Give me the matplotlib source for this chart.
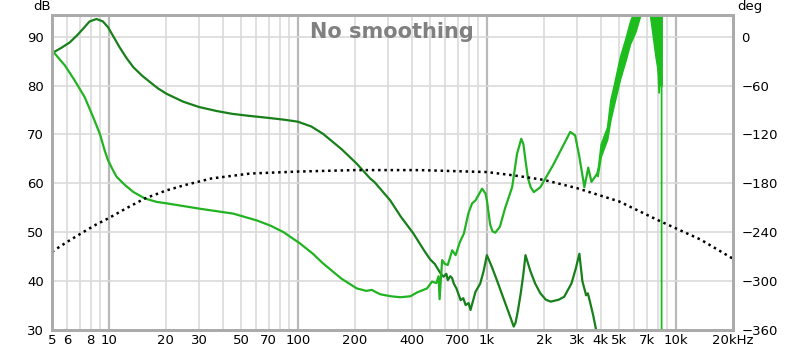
import matplotlib
matplotlib.use('Agg')
import matplotlib.pyplot as plt

# dark green trace (Hz, dB)
dark_freq = [5.1, 5.6, 6.2, 6.8, 7.3, 7.9, 8.6, 9.3, 9.9, 10.5, 11.4, 12.4, 13.5, 15, 16.5,
             18.2, 20.2, 24.7, 30, 37, 45, 55, 69, 85, 100, 118, 136, 170, 205, 241, 255,
             308, 350, 409, 470, 502, 530, 556, 570, 590, 610, 621, 640, 655, 668,
             690, 726, 750, 772, 800, 819, 845, 870, 922, 960, 1000, 1060, 1129, 1250,
             1340, 1386, 1418, 1460, 1510, 1560, 1600, 1700, 1800, 1918, 2050, 2175, 2400,
             2565, 2800, 2950, 3085, 3200, 3350, 3420, 3500, 3650, 3770, 3850]
dark_db = [86.8, 87.7, 88.8, 90.3, 91.6, 93.1, 93.6, 93.1, 91.9, 90.2, 87.8, 85.6, 83.7, 82.0, 80.7,
           79.4, 78.3, 76.7, 75.6, 74.8, 74.2, 73.8, 73.4, 73.0, 72.6, 71.6, 70.1, 67.0, 64.0, 61.0, 60.2,
           56.5, 53.2, 49.7, 46.0, 44.4, 43.5, 42.2, 41.5, 40.9, 41.5, 40.2, 41.0, 40.6, 39.5,
           38.5, 36.1, 36.5, 35.1, 35.5, 34.1, 36.0, 37.8, 39.5, 42.0, 45.3, 43.0, 40.2, 35.5,
           32.3, 30.7, 31.5, 34.0, 37.5, 41.5, 45.3, 42.0, 39.5, 37.5, 36.2, 35.8, 36.2,
           36.8, 39.5, 42.5, 45.6, 40.0, 37.1, 37.5, 36.0, 33.0, 30.3, 28.0]

# bright green trace (Hz, dB)
bright_freq = [5.1, 5.85, 6.6, 7.45, 8.26, 8.96, 9.5, 9.9, 10.5, 11, 12.2, 13.5, 15.5, 17.9,
               20.2, 30.3, 45.5, 60.7, 72, 84, 102.6, 120, 136, 170, 205, 230, 246, 260, 273,
               310, 348, 394, 428, 482, 512, 540, 555, 562, 572, 580, 600, 621, 655, 683, 720,
               755, 800, 835, 870, 943, 983, 1000, 1040, 1070, 1107, 1171, 1250, 1360, 1443,
               1520, 1560, 1600, 1650, 1705, 1770, 1918, 2260, 2500, 2760, 2930, 3085, 3280,
               3437, 3575, 3837, 3900]
bright_db = [86.8, 84.1, 81.0, 77.6, 73.5, 70.1, 66.7, 64.7, 62.7, 61.3, 59.6, 58.2, 56.9, 56.2,
             55.9, 54.8, 53.8, 52.4, 51.3, 50.0, 47.7, 45.6, 43.6, 40.5, 38.5, 38.0, 38.2, 37.7, 37.3,
             36.9, 36.7, 36.9, 37.7, 38.5, 39.9, 39.6, 41.0, 36.3, 41.0, 44.3, 43.5, 43.3, 46.3, 45.3, 48.0,
             49.7, 54.0, 55.9, 56.5, 58.9, 57.9, 56.5, 51.6, 50.2, 49.9, 51.1, 55.0, 59.2, 66.0,
             69.1, 68.0, 64.7, 61.0, 59.2, 58.2, 59.2, 64.0, 67.3, 70.5, 69.8, 65.4, 59.2,
             63.2, 60.3, 62.0, 63.0]

# noisy part of the bright trace, drawn as a band (Hz, low dB, high dB)
band_freq = [3850, 4000, 4325, 4500, 4690, 5070, 5400, 5710, 6100, 6430, 6700, 7000,
             7260, 7500, 7800, 8100, 8300, 8400]
band_lo = [61.5, 65.5, 69.0, 73.0, 76.0, 81.5, 85.0, 88.5, 91.0, 94.0, 97.0, 97.0,
           95.0, 91.0, 86.0, 82.0, 80.0, 80.0]
band_hi = [62.5, 68.0, 71.5, 77.0, 80.0, 86.0, 89.5, 93.0, 96.0, 97.0, 100.0, 100.0,
           100.0, 100.0, 100.0, 100.0, 100.0, 100.0]

# drop at the end of the bright trace
tail_freq = [8050, 8150, 8250, 8400, 8400]
tail_db = [84.0, 78.5, 83.0, 80.0, 20.0]

# dotted black trace
dot_freq = [5, 6, 7.3, 8.5, 10, 12.5, 15.5, 20, 25, 35, 56, 100, 200, 440, 1000, 1400,
            2000, 3000, 5000, 8200, 13500, 20000]
dot_db = [46.0, 48.0, 50.0, 51.5, 52.9, 55.0, 56.9, 58.5, 59.6, 61.0, 62.0, 62.4, 62.7, 62.7,
          62.3, 61.6, 60.7, 59.0, 56.3, 52.3, 48.5, 44.6]

xtick_pos = [5, 6, 8, 10, 20, 30, 50, 70, 100, 200, 400, 700, 1000, 2000, 3000, 4000,
             5000, 7000, 10000, 20000]
xtick_lab = ['5', '6', '8', '10', '20', '30', '50', '70', '100', '200', '400', '700', '1k',
             '2k', '3k', '4k', '5k', '7k', '10k', '20kHz']

fig = plt.figure(figsize=(8, 3.52), dpi=100)
ax = fig.add_axes([0.065, 0.0625, 0.851, 0.896])
ax.set_xscale('log')
ax.set_xlim(5, 20000)
ax.set_ylim(30, 94.5)

# grid
for dec in [1, 10, 100, 1000, 10000]:
    for m in range(1, 10):
        f = dec * m
        if f < 5 or f > 20000:
            continue
        if m == 1:
            ax.axvline(f, color='#b9b9b9', lw=1.6, zorder=0)
        else:
            ax.axvline(f, color='#dadada', lw=1.2, zorder=0)
for y in range(40, 100, 10):
    ax.axhline(y, color='#dadada', lw=1.2, zorder=0)

ax.plot(dark_freq, dark_db, color='#17801a', lw=1.6, zorder=3)
ax.plot(bright_freq, bright_db, color='#22b322', lw=1.6, zorder=4)
ax.fill_between(band_freq, band_lo, band_hi, color='#1dbd1d', lw=1.2,
                edgecolor='#1dbd1d', zorder=4)
ax.plot(tail_freq, tail_db, color='#1dbd1d', lw=1.3, zorder=4)
ax.plot(dot_freq, dot_db, color='black', lw=1.8, linestyle=(0, (1, 1.5)), zorder=5)

ax.set_xticks(xtick_pos)
ax.set_xticklabels(xtick_lab)
ax.xaxis.set_minor_locator(matplotlib.ticker.NullLocator())
ax.set_yticks(range(30, 100, 10))
ax.tick_params(axis='both', length=0, labelsize=9.5, colors='black')
ax.tick_params(axis='x', pad=3)
ax.tick_params(axis='y', pad=6)

ax2 = ax.twinx()
ax2.set_ylim((30 - 90) * 6, (94.5 - 90) * 6)
ax2.set_yticks(range(-360, 1, 60))
ax2.tick_params(axis='y', length=0, labelsize=9.5, pad=6)

for a in (ax, ax2):
    for s in a.spines.values():
        s.set_color('#ababab')
        s.set_linewidth(2)

fig.text(0.042, 0.982, 'dB', fontsize=9.5, ha='left', va='center')
fig.text(0.921, 0.982, 'deg', fontsize=9.5, ha='left', va='center')
fig.text(0.49, 0.909, 'No smoothing', fontsize=15, fontweight='bold',
         color='#808080', ha='center', va='center', zorder=10)

plt.savefig('out.png', dpi=100)
